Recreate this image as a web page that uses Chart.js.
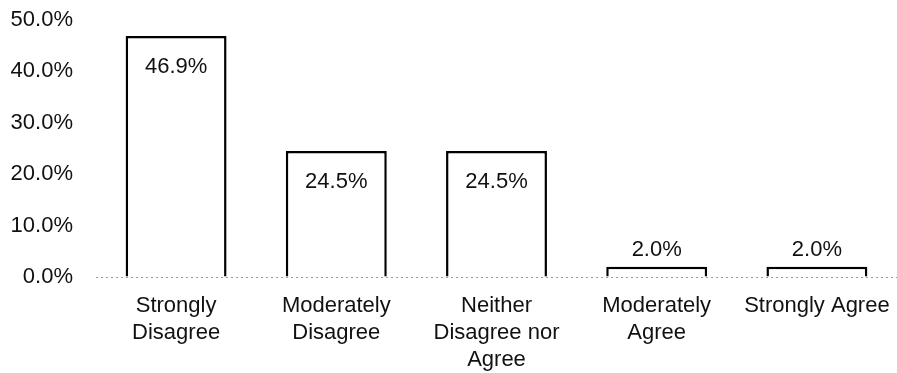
<!DOCTYPE html>
<html>
<head>
<meta charset="utf-8">
<script src="https://cdn.jsdelivr.net/npm/chart.js@4/dist/chart.umd.min.js"></script>
<style>
  html, body { margin: 0; padding: 0; background: #fff; }
  #wrap { width: 897px; height: 373px; }
</style>
</head>
<body>
<div id="wrap"><canvas id="bar-chart"></canvas></div>
<script>
const categories = [
    ['Strongly', 'Disagree'],
    ['Moderately', 'Disagree'],
    ['Neither', 'Disagree nor', 'Agree'],
    ['Moderately', 'Agree'],
    ['Strongly Agree']
];
const percents = [46.9, 24.5, 24.5, 2.0, 2.0];
const yTicks = [0, 10, 20, 30, 40, 50];

const FONT = '"Liberation Sans", Arial, sans-serif';

// value labels: inside the top of tall bars, just above short ones
const valueLabels = {
    id: 'valueLabels',
    afterDatasetsDraw(chart) {
        const ctx = chart.ctx;
        const meta = chart.getDatasetMeta(0);
        ctx.save();
        ctx.font = '22px ' + FONT;
        ctx.fillStyle = '#111';
        ctx.textAlign = 'center';
        ctx.textBaseline = 'middle';
        meta.data.forEach((bar, i) => {
            const v = percents[i];
            const y = v >= 10 ? bar.y + 31 : bar.y - 17;
            ctx.fillText(v.toFixed(1) + '%', bar.x, y);
        });
        ctx.restore();
    }
};

new Chart('bar-chart', {
    type: 'bar',
    data: {
        labels: categories,
        datasets: [{
            data: percents,
            backgroundColor: '#fff',
            borderColor: '#000',
            borderWidth: 2.5,
            categoryPercentage: 1,
            barPercentage: 0.63
        }]
    },
    options: {
        responsive: true,
        maintainAspectRatio: false,
        animation: false,
        layout: { padding: { top: 20, right: 0, left: 0, bottom: 0 } },
        plugins: {
            legend: { display: false },
            tooltip: { enabled: false }
        },
        scales: {
            x: {
                grid: { display: false, drawTicks: false },
                border: { display: false },
                ticks: {
                    color: '#111',
                    padding: 16,
                    maxRotation: 0,
                    autoSkip: false,
                    font: { family: FONT, size: 22, lineHeight: 1.22 }
                },
                afterFit(scale) {
                    scale.height = 96;
                    scale.paddingTop = 0;
                    scale.paddingBottom = 0;
                    scale.paddingRight = 0;
                }
            },
            y: {
                min: 0,
                max: 50,
                afterBuildTicks(scale) {
                    scale.ticks = yTicks.map(v => ({ value: v }));
                },
                grid: {
                    drawTicks: false,
                    color: ctx => ctx.tick && ctx.tick.value === 0 ? '#999' : 'rgba(0,0,0,0)',
                    lineWidth: 1
                },
                // dotted zero line
                border: { display: false, dash: [2, 3] },
                ticks: {
                    color: '#111',
                    padding: 23,
                    font: { family: FONT, size: 22 },
                    callback: v => v.toFixed(1) + '%'
                },
                afterFit(scale) {
                    scale.width = 96;
                    scale.paddingTop = 0;
                    scale.paddingBottom = 0;
                }
            }
        }
    },
    plugins: [valueLabels]
});
</script>
</body>
</html>
